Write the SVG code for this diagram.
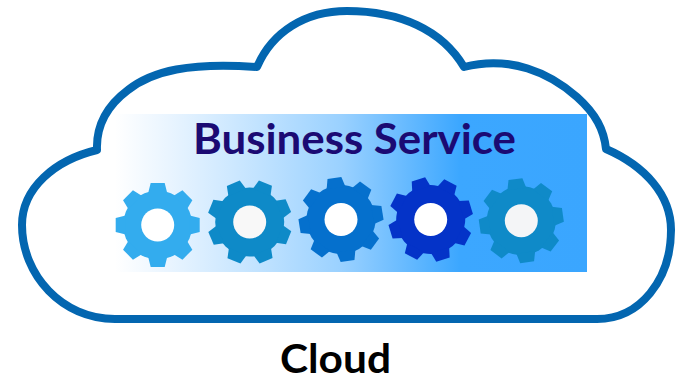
<svg xmlns="http://www.w3.org/2000/svg" width="677" height="381" viewBox="0 0 677 381">
<style>
.t{font-family:Lato,"Liberation Sans",sans-serif;font-weight:700}
.hole{fill:#fff}
</style>
<defs>
<linearGradient id="bg" x1="0" x2="1" y1="0" y2="0">
<stop offset="0" stop-color="#fff"/><stop offset="0.12" stop-color="#e8f4ff"/><stop offset="0.25" stop-color="#cde8ff"/><stop offset="0.48" stop-color="#9ad1ff"/><stop offset="0.73" stop-color="#3ca7ff"/><stop offset="1" stop-color="#3aa6ff"/>
</linearGradient>
<g id="gear">
<circle r="34.5"/>
<polygon points="-7,-42 7,-42 9.5,-32 -9.5,-32"/>
<polygon points="-7,-42 7,-42 9.5,-32 -9.5,-32" transform="rotate(45)"/>
<polygon points="-7,-42 7,-42 9.5,-32 -9.5,-32" transform="rotate(90)"/>
<polygon points="-7,-42 7,-42 9.5,-32 -9.5,-32" transform="rotate(135)"/>
<polygon points="-7,-42 7,-42 9.5,-32 -9.5,-32" transform="rotate(180)"/>
<polygon points="-7,-42 7,-42 9.5,-32 -9.5,-32" transform="rotate(225)"/>
<polygon points="-7,-42 7,-42 9.5,-32 -9.5,-32" transform="rotate(270)"/>
<polygon points="-7,-42 7,-42 9.5,-32 -9.5,-32" transform="rotate(315)"/>
</g>
</defs>
<g id="cloud">
<path d="M115 319C62 319 22 275 22 225C22 188 55 160 97 150C96 125 108 105 128 90C152 71 190 62 257 67C272 32 305 11 347 11C400 11 442 30 464 67C510 55 550 73 577 97C596 114 604 130 606 149C645 166 671 195 671 230C671 280 640 319 597 319Z" fill="#fff" stroke="#0366b0" stroke-width="8" stroke-linejoin="round"/>
</g>
<g id="business-service">
<rect x="115" y="114" width="472" height="158" fill="url(#bg)"/>
<text class="t" x="193" y="154" font-size="42" textLength="323" lengthAdjust="spacingAndGlyphs" fill="#1b0a73">Business Service</text>
</g>
<g id="gear-1"><use href="#gear" transform="translate(157.7 225)" fill="#33acee"/><circle class="hole" cx="157.7" cy="225" r="16.5"/></g>
<g id="gear-2"><use href="#gear" transform="translate(249.7 222) rotate(22)" fill="#0e8ac8"/><circle class="hole" cx="249.7" cy="222" r="16.5" style="fill:#f8f8f8"/></g>
<g id="gear-3"><use href="#gear" transform="translate(341 219.5) rotate(-9)" fill="#0570cd"/><circle class="hole" cx="341" cy="219.5" r="16.5"/></g>
<g id="gear-4"><use href="#gear" transform="translate(430.7 219.5) rotate(28)" fill="#0433c8"/><circle class="hole" cx="430.7" cy="219.5" r="16.5"/></g>
<g id="gear-5"><use href="#gear" transform="translate(521.3 220.7) rotate(-8)" fill="#0f8ac8"/><circle class="hole" cx="521.3" cy="220.7" r="16.5" style="fill:#f4f5f7"/></g>
<g id="cloud-label"><text class="t" x="280" y="372.5" font-size="40" textLength="111" lengthAdjust="spacingAndGlyphs" fill="#000">Cloud</text></g>
</svg>
